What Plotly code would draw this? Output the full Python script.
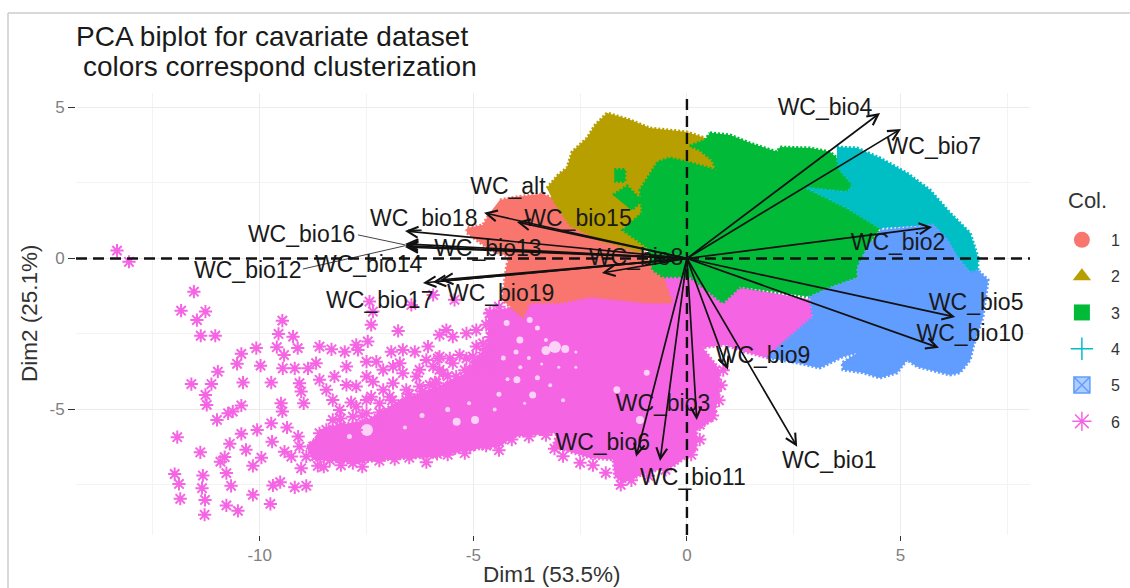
import plotly.graph_objects as go

# ---- cluster outlines (dense point clouds) ----
c6_x = [-4.38,-3.44,-2.04,-0.63,1.24,2.88,2.95,2.25,1.87,1.36,0.89,0.37,0.77,0.77,0.61,0.23,0.23,-0.33,-0.94,-1.5,-1.69,-1.73,-2.27,-3.14,-3.04,-4.07,-4.38,-5.08,-5.85,-6.84,-7.82,-8.76,-8.9,-8.43,-7.49,-6.72,-5.85,-5.25,-4.66,-4.66]
c6_y = [-1.71,-1.37,-0.71,-0.38,-0.94,-1.37,-1.94,-2.8,-3.29,-3.1,-2.86,-2.96,-3.69,-4.45,-5.35,-5.68,-6.34,-6.9,-7.1,-7.43,-7.24,-6.67,-6.61,-6.24,-5.78,-5.91,-6.24,-6.34,-6.57,-6.64,-6.77,-6.67,-6.24,-5.58,-5.35,-4.69,-4.25,-3.86,-2.86,-1.71]
c1_x = [-4.38,-3.98,-3.37,-3.16,-2.79,-2.44,-1.41,-1.05,-0.8,-0.56,-0.35,-0.87,-2.27,-2.97,-3.68,-3.84,-4.33,-4.26,-4.22,-4.15,-4.61,-5.15,-5.15,-4.78,-4.61]
c1_y = [1.94,2.04,2.14,2.0,1.37,1.04,0.61,0.35,-0.28,-0.61,-1.47,-1.47,-1.27,-1.47,-1.47,-1.94,-1.37,-0.65,-0.22,0.05,0.28,0.84,1.01,1.11,1.51]
c2_x = [-3.28,-3.02,-2.81,-2.69,-2.34,-2.15,-1.87,-1.33,-0.87,0,0.42,0.68,0.3,-0.63,-1.1,-2.04,-2.74,-3.16]
c2_y = [2.33,2.76,3.0,3.53,3.99,4.42,4.82,4.59,4.32,4.19,3.99,2.93,2.27,0.61,0.22,0.61,1.11,2.0]
c3_x = [0.54,1.01,1.48,2.11,2.18,2.88,3.35,3.51,3.58,3.89,3.75,2.81,3.75,4.52,4.29,4.0,4.0,3.42,2.88,1.24,0.84,0.07,-0.56,-0.8,-0.94,-1.5,-1.05,-1.1,-0.68,-0.4,0,0.68,0.59,0.3,0.07,0.42,0.54,None,-1.7,-1.45,-1.45,-1.7,None,-1.73,-1.4,-1.05,-1.3]
c3_y = [4.16,4.09,3.82,3.53,3.69,3.66,3.53,3.33,2.93,2.43,2.2,2.33,1.67,1.01,0.51,-0.28,-0.65,-0.94,-1.27,-0.94,-1.47,-0.61,-0.61,-0.38,0.38,0.94,1.51,2.27,3.2,3.33,3.2,2.93,3.26,3.59,3.73,3.92,4.16,None,2.95,2.95,2.55,2.55,None,2.1,2.4,1.9,1.6]
c4_x = [3.51,3.98,4.52,5.15,5.69,6.16,6.63,6.81,6.81,6.63,6.32,6.09,5.76,4.52,3.75,2.81,3.75,3.89,3.58,3.51]
c4_y = [3.69,3.66,3.33,2.83,2.27,1.51,0.84,0.05,-0.48,-0.48,0.05,0.61,1.11,1.01,1.67,2.33,2.2,2.43,2.93,3.33]
c5_x = [4.52,5.76,6.09,6.32,6.63,6.81,7.05,6.93,6.7,6.63,6.39,6.16,5.39,5.15,4.92,4.52,4.12,3.65,3.63,3.98,3.65,3.11,2.58,1.87,2.25,2.95,2.88,3.42,4.0,4.0,4.29]
c5_y = [0.94,1.11,0.61,0.05,-0.48,-0.38,-0.71,-1.94,-2.93,-3.36,-3.79,-3.86,-3.59,-3.36,-3.79,-3.96,-3.79,-3.69,-3.46,-3.13,-3.26,-3.63,-3.46,-3.29,-2.8,-1.94,-1.27,-0.94,-0.65,-0.28,0.51]

# ---- sparse cluster 6 points ----
star_x = [-13.34,-13.06,-11.54,-11.84,-11.27,-11.47,-11.38,-11.04,-9.47,-9.56,-9.22,-9.11,-9.6,-9.43,-10.08,-10.43,-10.53,-9.98,-10.98,-11.6,-11.13,-11.27,-11.24,-10.39,-9.73,-9.46,-9.18,-9.07,-9.03,-8.97,-9.5,-9.47,-10.43,-10.63,-10.74,-11.0,-11.93,-11.39,-10.43,-10.06,-9.73,-9.36,-9.1,-9.71,-10.7,-10.32,-10.82,-10.92,-9.96,-10.16,-10.78,-11.99,-11.89,-11.33,-11.35,-11.28,-11.86,-11.29,-10.78,-10.51,-10.67,-10.16,-9.75,-9.69,-9.52,-9.18,-8.91,
          -9.42,-9.26,-9.03,-8.64,-8.75,
          -8.6,-8.32,-8.01,-7.74,-7.47,-7.7,-7.5,-7.27,-6.92,-6.65,-6.37,-6.06,-6.88,-6.26,-5.83,-5.63,-5.79,-4.93,-4.62,-4.46,-6.76,-7.39,-7.35,-7.43,-6.45,-5.94,-5.44,-7.97,-8.25,-7.97,-7.74,-7.35,-7.11,-7.39,-7.86,-8.44,-8.6,-8.29,-8.68,-8.87,-5.79,-5.48,-5.16,-4.77,-4.46,-5.87,-6.02,-6.57,-6.72,-6.26,-5.55,-5.24,-4.93,-4.62,
          -8.29,-7.82,-7.5,-7.11,-8.44,-7.19,-7.74,-9.07,-8.91,-8.36,-7.82,-6.84,-5.85,-5.08,-5.44,-6.33,-7.31,-8.05,
          -8.5,-8.1,-7.6,-7.2,-6.5,-6.1,-5.6,-5.2,-4.7,-4.4,-4.1,-3.7,-3.3,-3.1,-2.9,-2.5,-2.2,-1.9,-1.55,-1.3,-0.9,-0.5,0.1,0.3,0.3,0.6,0.75,0.8,0.85,
          -8.1,-7.6,-7.2,-6.9,-6.5,-6.2,-5.9,-5.6,-5.2,-4.9,-4.7,-4.6,-4.7,-4.6,-4.4,
          -5.79,-5.55,-5.32,-5.01,-5.94,-5.71,-5.4,-5.08,-4.69,-4.5,-4.77,-4.46,-5.16,-4.93,-5.94,-6.26,-6.57,-6.88,-6.65,-6.33,-6.96,-7.19,-7.5,-7.74,-8.13,-8.13,-8.6,-6.1,-6.72,-7.11,-7.5,-5.48]
star_y = [0.26,-0.11,-1.10,-1.73,-1.76,-2.04,-2.56,-2.56,-2.06,-2.5,-2.59,-2.97,-2.94,-3.2,-2.97,-3.16,-3.49,-3.55,-3.75,-4.16,-4.16,-4.52,-4.85,-4.11,-4.11,-3.64,-3.64,-4.13,-4.41,-4.8,-4.8,-5.07,-4.87,-5.07,-5.13,-5.35,-5.92,-6.42,-5.81,-5.68,-5.46,-5.6,-5.9,-6.07,-6.14,-6.34,-6.58,-6.73,-6.6,-6.87,-7.11,-7.14,-7.47,-7.19,-7.61,-8.0,-7.96,-8.49,-8.18,-8.36,-7.53,-7.83,-8.13,-7.52,-7.41,-7.58,-7.53,
          -6.4,-6.56,-6.95,-6.87,-6.23,
          -2.92,-3.01,-3.09,-2.86,-2.75,-3.03,-3.42,-3.42,-3.09,-3.03,-3.09,-2.92,-3.58,-3.69,-3.31,-2.37,-2.53,-2.37,-1.82,-2.37,-2.4,-2.2,-1.76,-1.43,-1.54,-1.21,-1.37,-3.58,-3.91,-4.19,-4.24,-4.08,-4.35,-4.58,-4.77,-4.35,-4.02,-4.69,-3.47,-3.64,-3.69,-3.47,-3.31,-3.25,-3.14,-4.13,-4.19,-4.69,-4.91,-4.8,-4.24,-4.35,-3.91,-3.8,
          -5.35,-5.24,-5.13,-5.35,-5.68,-5.68,-5.68,-6.23,-6.56,-6.67,-6.78,-6.65,-6.47,-6.23,-6.29,-6.23,-6.45,-6.56,
          -6.9,-6.85,-6.9,-6.7,-6.6,-6.75,-6.5,-6.45,-6.2,-6.35,-6.0,-5.9,-5.85,-6.3,-6.55,-6.77,-6.85,-7.1,-7.5,-7.35,-7.2,-7.0,-6.5,-6.0,-5.5,-5.2,-4.7,-4.2,-3.7,
          -5.3,-5.2,-5.1,-4.7,-4.5,-4.4,-4.1,-3.9,-3.7,-3.4,-3.0,-2.6,-2.2,-1.8,-1.6,
          -3.25,-3.31,-3.2,-3.25,-3.58,-3.8,-3.91,-3.69,-3.69,-3.58,-2.81,-2.81,-2.48,-2.92,-4.46,-4.24,-4.35,-4.13,-3.8,-3.91,-4.58,-4.8,-4.69,-4.91,-5.02,-5.57,-5.79,-3.36,-3.47,-3.69,-3.91,-2.59]

# ---- gaps inside the cluster 6 cloud ----
gap_x = [-3.09,-3.3,-2.85,-3.98,-3.61,-3.91,-4.22,-3.68,-7.49,-5.39,-4.96,-1.64,-1.1,-0.94,
         -3.5,-3.3,-4.0,-3.7,-3.4,-3.9,-3.5,-3.2,-3.0,-4.3,-4.2,-4.4,-3.8,-2.9,-2.6,-2.6,-4.5,-5.1,-5.6,-6.2,-6.6,-7.9]
gap_y = [-2.93,-3.05,-3.0,-4.02,-4.52,-2.7,-2.14,-2.04,-5.68,-5.41,-5.35,-4.35,-5.35,-3.79,
         -2.3,-2.7,-3.1,-3.3,-3.5,-3.6,-3.95,-4.2,-3.6,-3.3,-4.0,-4.5,-4.8,-4.7,-3.1,-3.6,-5.0,-4.8,-5.0,-5.2,-5.6,-5.9]
gap_s = [12,9,8,7,7,7,6,6,12,8,8,7,8,6,
         5,4,5,4,3,4,5,4,3,5,4,5,3,4,3,3,4,4,5,5,4,5]

# ---- variable arrows ----
arrow_names = ["WC_alt","WC_bio1","WC_bio2","WC_bio3","WC_bio4","WC_bio5","WC_bio6","WC_bio7","WC_bio8","WC_bio9","WC_bio10","WC_bio11","WC_bio12","WC_bio13","WC_bio14","WC_bio15","WC_bio16","WC_bio17","WC_bio18","WC_bio19"]
arrow_x = [-4.75,2.58,5.74,0.23,4.52,6.28,-1.19,5.01,-1.99,0.96,5.9,-0.63,-6.6,-6.6,-5.78,-3.98,-6.6,-6.18,-6.6,-5.95]
arrow_y = [1.51,-6.24,1.04,-5.35,4.82,-1.94,-6.57,4.29,-0.48,-3.69,-2.96,-6.71,0.42,0.38,-0.71,1.21,0.48,-0.81,0.91,-0.78]
label_x = [-4.19,3.33,4.94,-0.56,3.23,6.77,-1.97,5.78,-1.19,1.78,6.63,0.14,-10.28,-4.66,-7.45,-2.55,-9.02,-7.19,-6.16,-4.36]
label_y = [2.33,-6.74,0.48,-4.85,4.93,-1.51,-6.15,3.65,-0.02,-3.27,-2.54,-7.31,-0.45,0.28,-0.25,1.27,0.74,-1.44,1.27,-1.21]

cluster_names = ["1","2","3","4","5","6"]
cluster_colors = ["#F8766D","#B79F00","#00BA38","#00BFC4","#619CFF","#F564E3"]
legend_symbols = ["circle","triangle-up","square","cross-thin-open","square-x","asterisk-open"]

x_ticks = [-10,-5,0,5]
x_ticktext = ["-10","-5","0","5"]
y_ticks = [-5,0,5]
y_ticktext = ["-5","0","5"]

FONT = "Liberation Sans"
fig = go.Figure()

def area(x, y, color):
    fig.add_trace(go.Scatter(x=x, y=y, mode="lines", fill="toself", fillcolor=color,
                             line=dict(color=color, width=3, dash="2px,2px"), showlegend=False, hoverinfo="skip"))

area(c6_x, c6_y, cluster_colors[5])
fig.add_trace(go.Scatter(x=gap_x, y=gap_y, mode="markers", showlegend=False, hoverinfo="skip",
                         marker=dict(color="white", size=gap_s, line=dict(width=0))))
fig.add_trace(go.Scatter(x=star_x, y=star_y, mode="markers", showlegend=False,
                         marker=dict(symbol="asterisk-open", size=11, color=cluster_colors[5],
                                     line=dict(color=cluster_colors[5], width=2))))
area(c1_x, c1_y, cluster_colors[0])
area(c2_x, c2_y, cluster_colors[1])
area(c3_x, c3_y, cluster_colors[2])
area(c4_x, c4_y, cluster_colors[3])
area(c5_x, c5_y, cluster_colors[4])

# leader lines
fig.add_trace(go.Scatter(x=[-7.7,-6.6], y=[0.78,0.45], mode="lines", showlegend=False,
                         line=dict(color="#444444", width=1), hoverinfo="skip"))
fig.add_trace(go.Scatter(x=[-8.99,-6.6], y=[-0.35,0.42], mode="lines", showlegend=False,
                         line=dict(color="#444444", width=1), hoverinfo="skip"))

# arrow labels
fig.add_trace(go.Scatter(x=label_x, y=label_y, text=arrow_names, mode="text", showlegend=False,
                         textfont=dict(family=FONT, size=23, color="#1a1a1a"), hoverinfo="skip"))

# legend entries
for i, name in enumerate(cluster_names):
    fig.add_trace(go.Scatter(x=[None], y=[None], mode="markers", name=name, legendgroup=name,
                             marker=dict(symbol=legend_symbols[i], size=16,
                                         color=cluster_colors[i] if i != 4 else "rgba(97,156,255,0.5)",
                                         line=dict(color=cluster_colors[i], width=1.5 if i in (3,4,5) else 0))))

PX0, PX1, PY0, PY1 = 76, 1030, 93, 535
def px(v): return (v-PX0)/(PX1-PX0)
def py(v): return (PY1-v)/(PY1-PY0)

annotations = [dict(x=ax_, y=ay_, ax=0, ay=0, xref="x", yref="y", axref="x", ayref="y",
                    text="", showarrow=True, arrowhead=5, arrowsize=1.25, arrowwidth=1.7,
                    arrowcolor="#111111")
               for ax_, ay_ in zip(arrow_x, arrow_y)]
annotations.append(dict(x=px(81), y=py(66), xref="paper", yref="paper", xanchor="left", yanchor="middle",
                        text="colors correspond clusterization", showarrow=False,
                        font=dict(family=FONT, size=28, color="#1a1a1a")))
annotations.append(dict(x=px(1066), y=py(200), xref="paper", yref="paper", xanchor="left", yanchor="middle",
                        text="Col.", showarrow=False, font=dict(family=FONT, size=22, color="#333333")))
annotations.append(dict(x=px(552), y=py(574), xref="paper", yref="paper", xanchor="center", yanchor="middle",
                        text="Dim1 (53.5%)", showarrow=False, font=dict(family=FONT, size=22.5, color="#333333")))
annotations.append(dict(x=px(29), y=py(313), xref="paper", yref="paper", xanchor="center", yanchor="middle", textangle=-90,
                        text="Dim2 (25.1%)", showarrow=False, font=dict(family=FONT, size=22.5, color="#333333")))

shapes = [
    dict(type="line", xref="paper", yref="y", x0=0, x1=1, y0=0, y1=0, layer="above",
         line=dict(color="#111111", width=2.4, dash="11px,6px")),
    dict(type="line", xref="x", yref="paper", x0=0, x1=0, y0=0, y1=1, layer="above",
         line=dict(color="#111111", width=2.4, dash="11px,6px")),
    dict(type="line", xref="paper", yref="paper", x0=px(8), x1=px(1130), y0=py(13), y1=py(13),
         line=dict(color="#cccccc", width=1.5)),
    dict(type="line", xref="paper", yref="paper", x0=px(8), x1=px(8), y0=py(13), y1=py(588),
         line=dict(color="#cccccc", width=1.5)),
]

fig.update_layout(
    width=1130, height=588, paper_bgcolor="white", plot_bgcolor="white",
    margin=dict(l=PX0, r=1130-PX1, t=PY0, b=588-PY1, autoexpand=False),
    title=dict(text="PCA biplot for cavariate dataset",
               x=76/1130, xanchor="left", xref="container", y=1-36/588, yanchor="middle",
               font=dict(family=FONT, size=28, color="#1a1a1a")),
    font=dict(family=FONT),
    annotations=annotations, shapes=shapes,
    legend=dict(x=1.024, y=0.706, xanchor="left", yanchor="top", tracegroupgap=12.5, itemwidth=48,
                font=dict(size=16, color="#333333"), itemclick=False),
    xaxis=dict(range=[-14.3,8.03], tickvals=x_ticks, ticktext=x_ticktext, ticks="outside", ticklen=5,
               tickcolor="#333333", tickfont=dict(size=17, color="#808080"), zeroline=False, automargin=False,
               showgrid=True, gridcolor="#ECECEC", minor=dict(dtick=2.5, tick0=0, showgrid=True, gridcolor="#F3F3F3"),
               showline=False),
    yaxis=dict(range=[-9.16,5.48], tickvals=y_ticks, ticktext=y_ticktext, ticks="outside", ticklen=7,
               tickcolor="#333333", tickfont=dict(size=17, color="#808080"), zeroline=False, automargin=False,
               showgrid=True, gridcolor="#ECECEC", minor=dict(dtick=2.5, tick0=0, showgrid=True, gridcolor="#F3F3F3"),
               showline=False),
)

fig.write_html("out.html", config=dict(displayModeBar=False), post_script="document.body.style.margin='0';")
